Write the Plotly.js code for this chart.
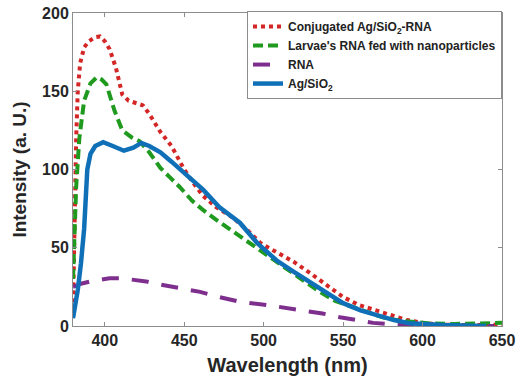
<!DOCTYPE html>
<html>
<head>
<meta charset="utf-8">
<script src="https://cdn.plot.ly/plotly-3.0.1.min.js"></script>
<style>html,body{margin:0;padding:0;background:#fff;}#chart{width:519px;height:377px;}</style>
</head>
<body>
<div id="chart"></div>
<script>
// Data
const seriesNames = ["Conjugated Ag/SiO<sub>2</sub>-RNA", "Larvae's RNA fed with nanoparticles", "RNA", "Ag/SiO<sub>2</sub>"];

const conjX = [380, 380.5, 381, 382, 383, 384.5, 387, 390, 394, 397, 400, 403, 407, 411, 415, 420, 424, 428, 435, 442, 450, 456, 462, 470, 481, 490, 498, 504, 512, 519, 529, 540, 550, 560, 571, 581, 590, 602, 615, 630, 650];
const conjY = [10, 40, 75, 120, 150, 168, 178, 182, 184.5, 185, 182, 177, 165, 148, 144, 142.5, 141, 135.5, 124, 115, 100, 91, 83, 76, 69, 61, 53, 49.5, 45, 41, 34, 26, 18.5, 13.4, 10, 7, 3.8, 1.7, 0.8, 0.6, 0.8];

const larvaeX = [380, 381, 382, 384, 387, 391, 395, 398, 401, 406, 411, 417, 422, 428, 435, 441, 447, 455, 462, 470, 477, 484, 491, 498, 506, 515, 525, 535, 545, 556, 565, 575, 585, 595, 605, 620, 635, 650];
const larvaeY = [30, 60, 89, 120, 144, 155, 159, 157.5, 154.5, 138, 125, 120.5, 118, 111, 101, 95, 89, 80, 74, 68, 63, 58, 53, 48, 42, 36, 29, 22, 16, 12, 8.5, 5.5, 3.5, 2.3, 1.6, 1.3, 1.5, 2];

const rnaX = [380, 385, 391, 397, 403, 410, 418, 426, 435, 447, 460, 472, 485, 502, 515, 525, 537, 548, 560, 569, 580, 590, 605, 620, 645];
const rnaY = [25, 27, 28.5, 29.5, 30.5, 30.5, 29.8, 28.5, 26.5, 24, 21.8, 18.5, 15.5, 13.4, 11.5, 10, 8, 5.6, 3.5, 2, 1.2, 0.6, 0.3, 0.1, 0];

const agX = [380, 383, 385, 387, 389, 391, 394, 399, 405, 412, 418, 423, 428, 435, 442, 449, 455, 462, 472, 485, 496, 508, 519, 529, 540, 550, 561, 571, 582, 592, 602, 613, 625, 640];
const agY = [5, 23, 40, 62, 100, 110, 115, 117.5, 115, 112, 114, 117, 115, 111, 105, 99, 93, 87, 76, 66, 53, 42, 34.6, 28, 21, 14.6, 10, 7, 3.8, 1.7, 1, 0.6, 0.3, 0];

const xTicks = [400, 450, 500, 550, 600, 650];
const yTicks = [0, 50, 100, 150, 200];

const FONT = "Arial, 'Liberation Sans', Helvetica, sans-serif";

const traces = [
  {x: conjX, y: conjY, name: seriesNames[0], mode: "lines", line: {color: "#d42626", width: 4, dash: "dot"}},
  {x: larvaeX, y: larvaeY, name: seriesNames[1], mode: "lines", line: {color: "#1f9a1f", width: 4, dash: "10px,5px"}},
  {x: rnaX, y: rnaY, name: seriesNames[2], mode: "lines", line: {color: "#7e2f8e", width: 4, dash: "17px,13px"}},
  {x: agX, y: agY, name: seriesNames[3], mode: "lines", line: {color: "#0f70b8", width: 4.5}}
];

const axisCommon = {
  showgrid: false, zeroline: false,
  showline: true, linecolor: "#8c8c8c", linewidth: 1,
  mirror: "ticks", ticks: "inside", ticklen: 4, tickcolor: "#8c8c8c",
  tickfont: {family: FONT, size: 16, color: "#262626", weight: "bold"}
};

const layout = {
  width: 519, height: 377,
  margin: {l: 73, r: 17, t: 12, b: 51},
  paper_bgcolor: "#fff", plot_bgcolor: "#fff",
  font: {family: FONT},
  showlegend: true,
  legend: {
    x: 1, xanchor: "right", y: 1.003, yanchor: "top",
    bgcolor: "#fff", bordercolor: "#8c8c8c", borderwidth: 1,
    font: {family: FONT, size: 12, color: "#222", weight: "bold"},
    tracegroupgap: 0, itemwidth: 30
  },
  xaxis: Object.assign({}, axisCommon, {
    range: [380, 650], tickvals: xTicks, ticktext: xTicks.map(String),
    title: {text: "Wavelength (nm)", font: {family: FONT, size: 20, color: "#262626", weight: "bold"}, standoff: 9}
  }),
  yaxis: Object.assign({}, axisCommon, {
    range: [0, 200], tickvals: yTicks, ticktext: yTicks.map(String),
    title: {text: "Intensity (a. U.)", font: {family: FONT, size: 19, color: "#262626", weight: "bold"}, standoff: 10}
  })
};

Plotly.newPlot("chart", traces, layout, {displayModeBar: false, staticPlot: true});
</script>
</body>
</html>
